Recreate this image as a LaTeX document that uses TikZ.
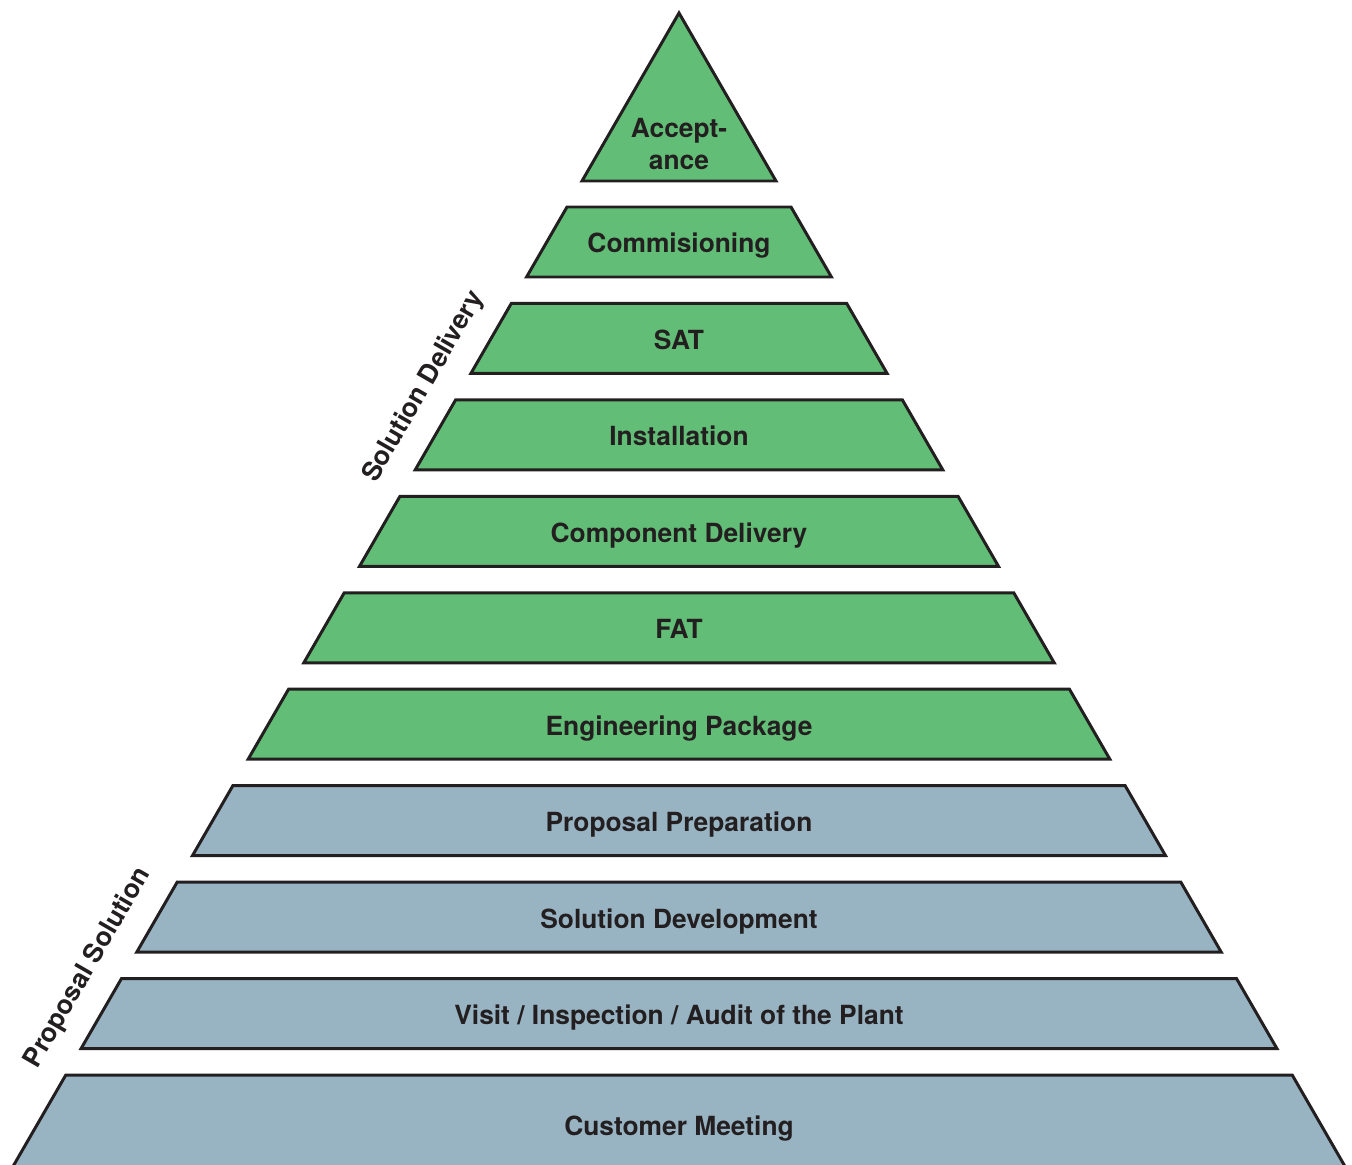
\documentclass[tikz,border=0pt]{standalone}
\usepackage{fontspec}
\setmainfont{TeX Gyre Heros}
\definecolor{stagegreen}{HTML}{62BE76}
\definecolor{stageblue}{HTML}{98B3C2}
\definecolor{inkdark}{HTML}{231F20}
\tikzset{
  layer/.style={draw=inkdark, line width=1.7pt, line join=miter},
  lbl/.style={text=inkdark, font=\fontsize{15}{18.2}\selectfont\bfseries, inner sep=0pt},
}
\begin{document}
\begin{tikzpicture}[x=0.02cm, y=-0.02cm]
\useasboundingbox (0,0) rectangle (1352,1165);
\clip (0,0) rectangle (1352,1165);
% top of the pyramid
\draw[layer, fill=stagegreen] (679,13) -- (776,181) -- (582,181) -- cycle;
\node[lbl, align=center] (accept) at (679,144) {Accept-\\ance};
% stages, all on the same 60 degree sides
\foreach \i/\txt/\col in {1/Commisioning/stagegreen, 2/SAT/stagegreen,
    3/Installation/stagegreen, 4/Component Delivery/stagegreen,
    5/FAT/stagegreen, 6/Engineering Package/stagegreen,
    7/Proposal Preparation/stageblue, 8/Solution Development/stageblue,
    9/{Visit / Inspection / Audit of the Plant}/stageblue} {
  \pgfmathsetmacro\ytop{207+(\i-1)*96.44}
  \pgfmathsetmacro\ybot{\ytop+70}
  \pgfmathsetmacro\xtl{679-0.5774*(\ytop-13)}
  \pgfmathsetmacro\xbl{679-0.5774*(\ybot-13)}
  \pgfmathsetmacro\xtr{679+0.5774*(\ytop-13)}
  \pgfmathsetmacro\xbr{679+0.5774*(\ybot-13)}
  \draw[layer, fill=\col] (\xtl,\ytop) -- (\xtr,\ytop) -- (\xbr,\ybot) -- (\xbl,\ybot) -- cycle;
  \node[lbl, anchor=base] (stage\i) at (679,\ytop+46) {\txt};
}
% widest stage runs off the page
\draw[layer, fill=stageblue] (65.8,1075) -- (1292.2,1075) -- (1364.4,1200) -- (-6.4,1200) -- cycle;
\node[lbl, anchor=base] (stage10) at (679,1135.5) {Customer Meeting};
% phase names along the left side
\node[lbl, rotate=60] (delivery) at (424,387) {Solution Delivery};
\node[lbl, rotate=60] (proposal) at (88,968) {Proposal Solution};
\end{tikzpicture}
\end{document}
